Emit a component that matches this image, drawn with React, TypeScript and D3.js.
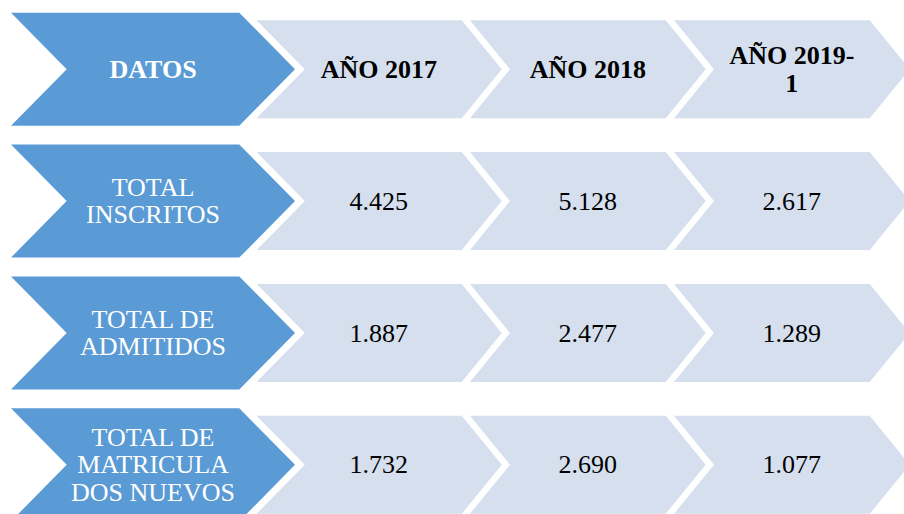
import React from "react";
import * as d3 from "d3";

// ---- data ----
const headerLabel = ["DATOS"];
const yearHeaders = [["AÑO 2017"], ["AÑO 2018"], ["AÑO 2019-", "1"]];
const rowLabels = [
  ["TOTAL", "INSCRITOS"],
  ["TOTAL DE", "ADMITIDOS"],
  ["TOTAL DE", "MATRICULA", "DOS NUEVOS"],
];
const values2017 = [4425, 1887, 1732];
const values2018 = [5128, 2477, 2690];
const values2019 = [2617, 1289, 1077];

const W = 904;
const H = 514;
const DARK = "#5B9BD5";
const LIGHT = "#D5DFEE";
const FONT = "'Liberation Serif', 'Times New Roman', serif";

const fmt = d3
  .formatLocale({ decimal: ",", thousands: ".", grouping: [3], currency: ["", ""] })
  .format(",d");

// row centers (header row = 0)
const yRow = d3.scaleLinear().domain([0, 3]).range([69.2, 464.8]);
// light chevron top-right corners per column
const xCol = d3.scaleLinear().domain([0, 2]).range([461.7, 869.7]);

const darkHalf = 56.5;
const darkLeft = 11;
const darkDepth = 55.7;
const darkTopRight = 239.3;
const lightHalf = 49;
const lightDepth = 40;
const gapX = 8.3;

function chevron(x0: number, x1: number, cy: number, half: number, depth: number) {
  const p = d3.path();
  p.moveTo(x0, cy - half);
  p.lineTo(x1, cy - half);
  p.lineTo(x1 + depth, cy);
  p.lineTo(x1, cy + half);
  p.lineTo(x0, cy + half);
  p.lineTo(x0 + depth, cy);
  p.closePath();
  return p.toString();
}

function MultiText({ lines, cx, cy, size, weight, fill }: any) {
  const lh = size * 1.06;
  const cap = size * 0.662;
  const n = lines.length;
  const blockH = cap + (n - 1) * lh;
  const b0 = cy - blockH / 2 + cap;
  return (
    <text
      x={cx}
      textAnchor="middle"
      fontFamily={FONT}
      fontSize={size}
      fontWeight={weight}
      fill={fill}
    >
      {lines.map((l: string, i: number) => (
        <tspan key={i} x={cx} y={b0 + i * lh}>
          {l}
        </tspan>
      ))}
    </text>
  );
}

export default function App() {
  const rows = [
    { label: headerLabel, cells: yearHeaders, header: true },
    ...rowLabels.map((lab, i) => ({
      label: lab,
      cells: [[fmt(values2017[i])], [fmt(values2018[i])], [fmt(values2019[i])]],
      header: false,
    })),
  ];
  return (
    <svg
      width={W}
      height={H}
      style={{ position: "absolute", left: 0, top: 0, display: "block", background: "#fff" }}
    >
      <rect width={W} height={H} fill="#fff" />
      {rows.map((r, ri) => {
        const cy = yRow(ri);
        return (
          <g key={ri}>
            {r.cells.map((c, ci) => {
              const x1 = xCol(ci);
              const x0 = ci === 0 ? 256 : xCol(ci - 1) + gapX;
              const cx = (x0 + lightDepth + x1) / 2;
              return (
                <g key={ci}>
                  <path d={chevron(x0, x1, cy, lightHalf, lightDepth)} fill={LIGHT} />
                  <MultiText
                    lines={c}
                    cx={cx}
                    cy={cy}
                    size={26}
                    weight={r.header ? "bold" : "normal"}
                    fill="#000"
                  />
                </g>
              );
            })}
            <path
              d={chevron(darkLeft, darkTopRight, cy, darkHalf, darkDepth)}
              fill="#fff"
              stroke="#fff"
              strokeWidth={14}
              strokeLinejoin="miter"
              strokeMiterlimit={10}
            />
            <path d={chevron(darkLeft, darkTopRight, cy, darkHalf, darkDepth)} fill={DARK} />
            <MultiText
              lines={r.label}
              cx={(darkLeft + darkDepth + darkTopRight) / 2}
              cy={cy}
              size={26}
              weight={r.header ? "bold" : "normal"}
              fill="#fff"
            />
          </g>
        );
      })}
    </svg>
  );
}
